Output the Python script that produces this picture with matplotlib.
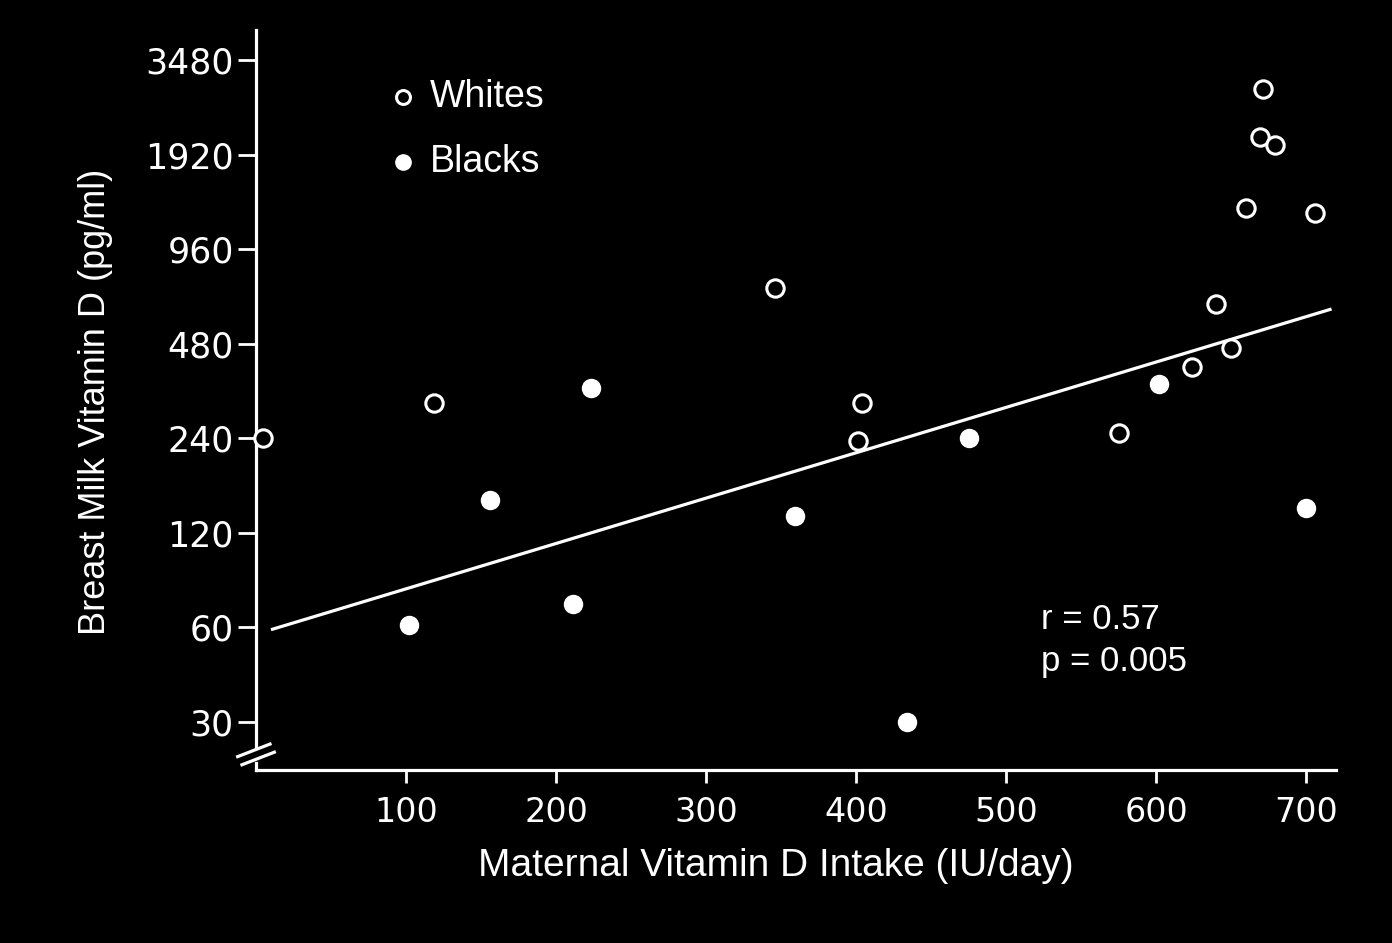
import matplotlib
matplotlib.use("Agg")
import matplotlib.pyplot as plt

# Maternal intake (IU/day) vs breast milk vitamin D (pg/ml)
whites_x = [5, 119, 346, 404, 401, 575, 624, 640, 650, 660, 671, 669, 679, 706]
whites_y = [240, 310, 720, 311, 235, 250, 405, 640, 465, 1300, 3100, 2180, 2060, 1250]
blacks_x = [102, 156, 211, 223, 359, 434, 475, 602, 700]
blacks_y = [61, 153, 71, 347, 136, 30, 240, 357, 144]

fit_x = [10, 717]
fit_y = [59, 619]

x_ticks = [100, 200, 300, 400, 500, 600, 700]
y_ticks = [30, 60, 120, 240, 480, 960, 1920, 3840]
y_tick_labels = ["30", "60", "120", "240", "480", "960", "1920", "3480"]

plt.rcParams["font.family"] = ["Liberation Sans", "DejaVu Sans"]
fg = "white"

fig = plt.figure(figsize=(13.92, 9.43), dpi=100, facecolor="black")
ax = fig.add_axes([0.1839, 0.1835, 0.7759, 0.7847], facecolor="black")

ax.set_yscale("log", base=2)
ax.set_xlim(0, 720)
ax.set_ylim(21.1, 4785)

ax.plot(fit_x, fit_y, color=fg, lw=2.3, solid_capstyle="butt")
ax.plot(whites_x, whites_y, "o", ms=12.5, mfc="black", mec=fg, mew=2.2,
        linestyle="none", clip_on=False, zorder=3)
ax.plot(blacks_x, blacks_y, "o", ms=13, mfc=fg, mec=fg, mew=1,
        linestyle="none", clip_on=False, zorder=3)

ax.set_xticks(x_ticks)
ax.set_xticklabels([str(v) for v in x_ticks], family="DejaVu Sans")
ax.set_yticks(y_ticks)
ax.set_yticklabels(y_tick_labels, family="DejaVu Sans")
ax.yaxis.set_minor_locator(matplotlib.ticker.NullLocator())

ax.tick_params(axis="y", colors=fg, labelsize=25, length=13, width=2, pad=3)
ax.tick_params(axis="x", colors=fg, labelsize=24, length=9, width=2, pad=10)

for side in ["top", "right", "left"]:
    ax.spines[side].set_visible(False)
ax.spines["bottom"].set_color(fg)
ax.spines["bottom"].set_linewidth(2.3)

# left axis with a break near the bottom
ytr = ax.get_yaxis_transform()
ax.plot([0, 0], [24.9, 4785], color=fg, lw=2.3, transform=ytr, clip_on=False)
ax.plot([0, 0], [21.1, 22.2], color=fg, lw=2.3, transform=ytr, clip_on=False)
for xc, yc in [(-0.002, 0.0265), (0.002, 0.0155)]:
    ax.plot([xc - 0.015, xc + 0.015], [yc - 0.0085, yc + 0.0085], color=fg,
            lw=2.3, transform=ax.transAxes, clip_on=False)

ax.set_xlabel("Maternal Vitamin D Intake (IU/day)", color=fg, fontsize=28)
ax.set_ylabel("Breast Milk Vitamin D (pg/ml)", color=fg, fontsize=26)
ax.xaxis.set_label_coords(0.481, -0.106)
ax.yaxis.set_label_coords(-0.132, 0.497)

# legend drawn by hand
ax.plot([0.136], [0.909], "o", ms=10, mfc="black", mec=fg, mew=2.2,
        transform=ax.transAxes, clip_on=False)
ax.plot([0.136], [0.822], "o", ms=11, mfc=fg, mec=fg,
        transform=ax.transAxes, clip_on=False)
ax.text(0.161, 0.909, "Whites", color=fg, fontsize=27, va="center", transform=ax.transAxes)
ax.text(0.161, 0.822, "Blacks", color=fg, fontsize=27, va="center", transform=ax.transAxes)

ax.text(0.727, 0.203, "r = 0.57", color=fg, fontsize=25, va="center", transform=ax.transAxes)
ax.text(0.727, 0.146, "p = 0.005", color=fg, fontsize=25, va="center", transform=ax.transAxes)

fig.savefig("out.png", dpi=100, facecolor="black")
